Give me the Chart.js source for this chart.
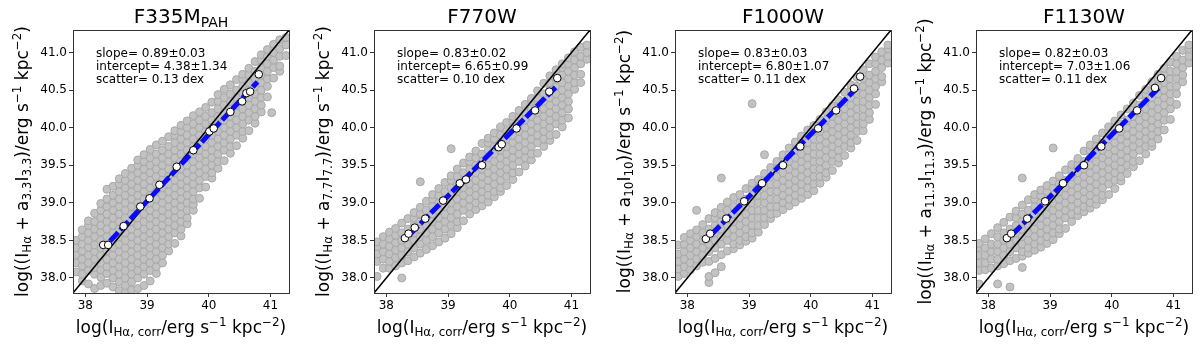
<!DOCTYPE html>
<html><head><meta charset="utf-8">
<script src="https://cdn.jsdelivr.net/npm/chart.js@4.4.0/dist/chart.umd.min.js"></script>
<style>
html,body{margin:0;padding:0;background:#fff;}
#wrap{position:relative;width:1200px;height:346px;overflow:hidden;background:#fff;}
.pane{position:absolute;top:0;width:301px;height:346px;}
canvas{display:block;}
</style></head><body>
<div id="wrap">
<div class="pane" style="left:0px"><canvas id="c0" width="301" height="346"></canvas></div>
<div class="pane" style="left:301px"><canvas id="c1" width="301" height="346"></canvas></div>
<div class="pane" style="left:602px"><canvas id="c2" width="301" height="346"></canvas></div>
<div class="pane" style="left:903px"><canvas id="c3" width="301" height="346"></canvas></div>
</div>
<script>
// ---------------- DATA ----------------
const axisMin = 37.8, axisMax = 41.3;
const xTicks = [38, 39, 40, 41];
const xTickLabels = ['38', '39', '40', '41'];
const yTicks = [38.0, 38.5, 39.0, 39.5, 40.0, 40.5, 41.0];
const yTickLabels = ['38.0', '38.5', '39.0', '39.5', '40.0', '40.5', '41.0'];

const panelNames = ['F335M', 'F770W', 'F1000W', 'F1130W'];
const panelNameSubs = ['PAH', '', '', ''];
const bandSubs = ['3.3', '7.7', '10', '11.3'];
const slopeTexts = ['slope= 0.89±0.03', 'slope= 0.83±0.02', 'slope= 0.83±0.03', 'slope= 0.82±0.03'];
const interceptTexts = ['intercept= 4.38±1.34', 'intercept= 6.65±0.99', 'intercept= 6.80±1.07', 'intercept= 7.03±1.06'];
const scatterTexts = ['scatter= 0.13 dex', 'scatter= 0.10 dex', 'scatter= 0.11 dex', 'scatter= 0.11 dex'];

const oneToOne = [37.8, 41.3];

// gray cloud, columns: [x, y1, y2, ...]
const cloudF335 = [
 [37.85, 38.08, 38.2, 38.31, 38.4, 38.5],
 [37.95, 37.96, 38.05, 38.16, 38.25, 38.36, 38.45, 38.55, 38.64],
 [38.05, 37.92, 38.1, 38.2, 38.3, 38.41, 38.5, 38.6, 38.7, 38.76],
 [38.15, 37.86, 38.05, 38.14, 38.25, 38.35, 38.44, 38.55, 38.65, 38.75, 38.86],
 [38.25, 37.9, 38.01, 38.11, 38.2, 38.3, 38.4, 38.5, 38.61, 38.7, 38.8, 38.9, 38.99],
 [38.35, 37.93, 38.06, 38.15, 38.25, 38.36, 38.45, 38.55, 38.65, 38.75, 38.85, 38.95, 39.05, 39.18],
 [38.45, 37.88, 38.0, 38.1, 38.2, 38.3, 38.4, 38.5, 38.6, 38.7, 38.8, 38.9, 39.0, 39.1, 39.22],
 [38.55, 37.83, 37.95, 38.05, 38.15, 38.25, 38.35, 38.45, 38.55, 38.65, 38.75, 38.85, 38.95, 39.05, 39.15, 39.25, 39.32],
 [38.65, 37.81, 37.9, 38.0, 38.1, 38.2, 38.3, 38.4, 38.5, 38.6, 38.7, 38.8, 38.9, 39.0, 39.1, 39.2, 39.3, 39.39],
 [38.75, 37.84, 37.95, 38.05, 38.15, 38.25, 38.35, 38.45, 38.55, 38.65, 38.75, 38.85, 38.95, 39.05, 39.15, 39.25, 39.35, 39.46],
 [38.85, 37.86, 38.0, 38.1, 38.2, 38.3, 38.4, 38.5, 38.6, 38.7, 38.8, 38.9, 39.0, 39.1, 39.2, 39.3, 39.4, 39.5, 39.57],
 [38.95, 37.9, 38.05, 38.15, 38.25, 38.35, 38.45, 38.55, 38.65, 38.75, 38.85, 38.95, 39.05, 39.15, 39.25, 39.35, 39.45, 39.55, 39.64],
 [39.05, 37.96, 38.1, 38.2, 38.3, 38.4, 38.5, 38.6, 38.7, 38.8, 38.9, 39.0, 39.1, 39.2, 39.3, 39.4, 39.5, 39.6, 39.71],
 [39.15, 38.06, 38.15, 38.25, 38.35, 38.45, 38.55, 38.65, 38.75, 38.85, 38.95, 39.05, 39.15, 39.25, 39.35, 39.45, 39.55, 39.65, 39.77],
 [39.25, 38.2, 38.3, 38.4, 38.5, 38.6, 38.7, 38.8, 38.9, 39.0, 39.1, 39.2, 39.3, 39.4, 39.5, 39.6, 39.7, 39.82],
 [39.35, 38.36, 38.45, 38.55, 38.65, 38.75, 38.85, 38.95, 39.05, 39.15, 39.25, 39.35, 39.45, 39.55, 39.65, 39.75, 39.88],
 [39.45, 38.46, 38.6, 38.7, 38.8, 38.9, 39.0, 39.1, 39.2, 39.3, 39.4, 39.5, 39.6, 39.7, 39.8, 39.9, 39.96],
 [39.55, 38.56, 38.65, 38.75, 38.85, 38.95, 39.05, 39.15, 39.25, 39.35, 39.45, 39.55, 39.65, 39.75, 39.85, 39.95, 40.03],
 [39.65, 38.72, 38.8, 38.9, 39.0, 39.1, 39.2, 39.3, 39.4, 39.5, 39.6, 39.7, 39.8, 39.9, 40.0, 40.09],
 [39.75, 38.9, 38.98, 39.05, 39.15, 39.25, 39.35, 39.45, 39.55, 39.65, 39.75, 39.85, 39.95, 40.05, 40.16],
 [39.85, 39.06, 39.2, 39.3, 39.4, 39.5, 39.6, 39.7, 39.8, 39.9, 40.0, 40.1, 40.21],
 [39.95, 39.21, 39.35, 39.45, 39.55, 39.65, 39.75, 39.85, 39.95, 40.05, 40.15, 40.27],
 [40.05, 39.33, 39.4, 39.5, 39.6, 39.7, 39.8, 39.9, 40.0, 40.1, 40.2, 40.34],
 [40.15, 39.46, 39.55, 39.65, 39.75, 39.85, 39.95, 40.05, 40.15, 40.25, 40.35, 40.44],
 [40.25, 39.56, 39.7, 39.8, 39.9, 40.0, 40.1, 40.2, 40.3, 40.4, 40.51],
 [40.35, 39.66, 39.75, 39.85, 39.95, 40.05, 40.15, 40.25, 40.35, 40.45, 40.57],
 [40.45, 39.76, 39.9, 40.0, 40.1, 40.2, 40.3, 40.4, 40.5, 40.64],
 [40.55, 39.86, 39.95, 40.05, 40.15, 40.25, 40.35, 40.45, 40.55, 40.65, 40.71],
 [40.65, 39.96, 40.1, 40.2, 40.3, 40.4, 40.5, 40.6, 40.7, 40.79],
 [40.75, 40.06, 40.15, 40.25, 40.35, 40.45, 40.55, 40.65, 40.75, 40.88],
 [40.85, 40.21, 40.3, 40.4, 40.5, 40.6, 40.7, 40.8, 40.9, 40.97],
 [40.95, 40.41, 40.55, 40.65, 40.75, 40.85, 40.95, 41.04],
 [41.02, 40.2],
 [41.05, 40.66, 40.8, 40.9, 41.0, 41.11],
 [41.15, 40.75, 40.82, 40.95, 41.05, 41.17],
 [41.25, 40.96, 41.1, 41.2]
];
const cloudF770 = [
 [37.85, 38.02, 38.22, 38.32, 38.42, 38.48],
 [37.95, 38.13, 38.25, 38.35, 38.45, 38.55],
 [38.05, 38.13, 38.22, 38.32, 38.42, 38.52, 38.61],
 [38.15, 38.16, 38.27, 38.37, 38.47, 38.57, 38.66],
 [38.25, 38.0, 38.2, 38.3, 38.4, 38.5, 38.6, 38.73],
 [38.35, 38.23, 38.35, 38.45, 38.55, 38.65, 38.79],
 [38.45, 38.28, 38.4, 38.5, 38.6, 38.7, 38.8, 38.87],
 [38.55, 38.33, 38.45, 38.55, 38.65, 38.75, 38.85, 38.94, 39.28],
 [38.65, 38.38, 38.5, 38.6, 38.7, 38.8, 38.9, 39.02],
 [38.75, 38.43, 38.55, 38.65, 38.75, 38.85, 38.95, 39.05, 39.11],
 [38.85, 38.48, 38.6, 38.7, 38.8, 38.9, 39.0, 39.1, 39.19],
 [38.95, 38.53, 38.65, 38.75, 38.85, 38.95, 39.05, 39.15, 39.27],
 [39.05, 38.59, 38.7, 38.8, 38.9, 39.0, 39.1, 39.2, 39.3, 39.36, 39.72],
 [39.15, 38.67, 38.75, 38.85, 38.95, 39.05, 39.15, 39.25, 39.35, 39.45],
 [39.25, 38.76, 38.9, 39.0, 39.1, 39.2, 39.3, 39.4, 39.53],
 [39.35, 38.85, 38.95, 39.05, 39.15, 39.25, 39.35, 39.45, 39.55, 39.61],
 [39.45, 38.91, 39.0, 39.1, 39.2, 39.3, 39.4, 39.5, 39.6, 39.69],
 [39.55, 38.96, 39.05, 39.15, 39.25, 39.35, 39.45, 39.55, 39.65, 39.79],
 [39.65, 39.01, 39.1, 39.2, 39.3, 39.4, 39.5, 39.6, 39.7, 39.8, 39.86],
 [39.75, 39.08, 39.15, 39.25, 39.35, 39.45, 39.55, 39.65, 39.75, 39.85, 39.93],
 [39.85, 39.15, 39.2, 39.3, 39.4, 39.5, 39.6, 39.7, 39.8, 39.9, 40.01],
 [39.95, 39.23, 39.35, 39.45, 39.55, 39.65, 39.75, 39.85, 39.95, 40.07],
 [40.05, 39.31, 39.4, 39.5, 39.6, 39.7, 39.8, 39.9, 40.0, 40.1, 40.15],
 [40.15, 39.41, 39.55, 39.65, 39.75, 39.85, 39.95, 40.05, 40.15, 40.23],
 [40.25, 39.49, 39.6, 39.7, 39.8, 39.9, 40.0, 40.1, 40.2, 40.31],
 [40.35, 39.57, 39.65, 39.75, 39.85, 39.95, 40.05, 40.15, 40.25, 40.35, 40.39],
 [40.45, 39.66, 39.8, 39.9, 40.0, 40.1, 40.2, 40.3, 40.4, 40.49],
 [40.55, 39.75, 39.85, 39.95, 40.05, 40.15, 40.25, 40.35, 40.45, 40.59],
 [40.65, 39.83, 39.9, 40.0, 40.1, 40.2, 40.3, 40.4, 40.5, 40.6, 40.69],
 [40.75, 39.91, 40.05, 40.15, 40.25, 40.35, 40.45, 40.55, 40.65, 40.77],
 [40.85, 40.01, 40.1, 40.2, 40.3, 40.4, 40.5, 40.6, 40.7, 40.8, 40.85],
 [40.95, 40.13, 40.25, 40.35, 40.45, 40.55, 40.65, 40.75, 40.85, 40.93],
 [41.05, 40.51, 40.6, 40.7, 40.8, 40.9, 41.01],
 [41.15, 40.6, 40.71, 40.85, 40.95, 41.07],
 [41.25, 40.91, 41.0, 41.1]
];
const cloudF1000 = [
 [37.85, 38.02, 38.12, 38.22, 38.32, 38.44],
 [37.95, 38.06, 38.15, 38.25, 38.35, 38.45, 38.54],
 [38.05, 38.11, 38.2, 38.3, 38.4, 38.5, 38.59],
 [38.15, 38.16, 38.25, 38.35, 38.45, 38.55, 38.64, 38.9],
 [38.25, 38.21, 38.3, 38.4, 38.5, 38.6, 38.71],
 [38.35, 37.94, 38.02, 38.22, 38.35, 38.45, 38.55, 38.65, 38.79],
 [38.45, 38.07, 38.26, 38.4, 38.5, 38.6, 38.7, 38.8, 38.87],
 [38.55, 38.15, 38.31, 38.45, 38.55, 38.65, 38.75, 38.85, 38.94, 39.33],
 [38.65, 38.36, 38.5, 38.6, 38.7, 38.8, 38.9, 39.01],
 [38.75, 38.39, 38.45, 38.55, 38.65, 38.75, 38.85, 38.95, 39.07],
 [38.85, 38.44, 38.5, 38.6, 38.7, 38.8, 38.9, 39.0, 39.11],
 [38.95, 38.49, 38.55, 38.65, 38.75, 38.85, 38.95, 39.05, 39.19],
 [39.05, 38.53, 38.6, 38.7, 38.8, 38.9, 39.0, 39.1, 39.2, 39.26, 40.32],
 [39.15, 38.61, 38.7, 38.8, 38.9, 39.0, 39.1, 39.2, 39.31],
 [39.25, 38.71, 38.8, 38.9, 39.0, 39.1, 39.2, 39.3, 39.39, 39.64],
 [39.35, 38.79, 38.85, 38.95, 39.05, 39.15, 39.25, 39.35, 39.47],
 [39.45, 38.86, 38.95, 39.05, 39.15, 39.25, 39.35, 39.45, 39.55],
 [39.55, 38.91, 39.0, 39.1, 39.2, 39.3, 39.4, 39.5, 39.6, 39.64],
 [39.65, 38.96, 39.05, 39.15, 39.25, 39.35, 39.45, 39.55, 39.65, 39.73],
 [39.75, 39.01, 39.1, 39.2, 39.3, 39.4, 39.5, 39.6, 39.7, 39.81],
 [39.85, 39.06, 39.15, 39.25, 39.35, 39.45, 39.55, 39.65, 39.75, 39.85, 39.89],
 [39.95, 39.11, 39.2, 39.3, 39.4, 39.5, 39.6, 39.7, 39.8, 39.9, 39.97],
 [40.05, 39.16, 39.25, 39.35, 39.45, 39.55, 39.65, 39.75, 39.85, 39.95, 40.03],
 [40.15, 39.26, 39.35, 39.45, 39.55, 39.65, 39.75, 39.85, 39.95, 40.05, 40.11],
 [40.25, 39.34, 39.4, 39.5, 39.6, 39.7, 39.8, 39.9, 40.0, 40.1, 40.21],
 [40.35, 39.43, 39.55, 39.65, 39.75, 39.85, 39.95, 40.05, 40.15, 40.29],
 [40.45, 39.53, 39.6, 39.7, 39.8, 39.9, 40.0, 40.1, 40.2, 40.3, 40.37],
 [40.55, 39.63, 39.75, 39.85, 39.95, 40.05, 40.15, 40.25, 40.35, 40.47],
 [40.65, 39.73, 39.8, 39.9, 40.0, 40.1, 40.2, 40.3, 40.4, 40.5, 40.57],
 [40.75, 39.83, 39.95, 40.05, 40.15, 40.25, 40.35, 40.45, 40.55, 40.67],
 [40.85, 39.96, 40.05, 40.15, 40.25, 40.35, 40.45, 40.55, 40.65, 40.77],
 [40.95, 40.11, 40.2, 40.3, 40.4, 40.5, 40.6, 40.7, 40.85],
 [41.05, 40.31, 40.45, 40.55, 40.65, 40.75, 40.85, 40.94],
 [41.15, 40.61, 40.68, 40.8, 40.9, 41.01],
 [41.25, 40.86, 40.95, 41.05, 41.1]
];
const cloudF1130 = [
 [37.85, 37.92, 38.1, 38.2, 38.3, 38.4, 38.46],
 [37.95, 38.11, 38.2, 38.3, 38.4, 38.52],
 [38.05, 38.13, 38.25, 38.35, 38.45, 38.59],
 [38.15, 37.92, 38.16, 38.25, 38.35, 38.45, 38.55, 38.67],
 [38.25, 38.19, 38.3, 38.4, 38.5, 38.6, 38.74],
 [38.35, 37.88, 38.23, 38.35, 38.45, 38.55, 38.65, 38.81],
 [38.45, 38.26, 38.4, 38.5, 38.6, 38.7, 38.8, 38.89],
 [38.55, 38.14, 38.29, 38.35, 38.45, 38.55, 38.65, 38.75, 38.85, 38.97, 39.33],
 [38.65, 38.33, 38.4, 38.5, 38.6, 38.7, 38.8, 38.9, 39.04],
 [38.75, 38.37, 38.45, 38.55, 38.65, 38.75, 38.85, 38.95, 39.05, 39.11],
 [38.85, 38.41, 38.5, 38.6, 38.7, 38.8, 38.9, 39.0, 39.1, 39.17],
 [38.95, 38.46, 38.55, 38.65, 38.75, 38.85, 38.95, 39.05, 39.15, 39.23],
 [39.05, 38.51, 38.6, 38.7, 38.8, 38.9, 39.0, 39.1, 39.2, 39.29, 39.73],
 [39.15, 38.59, 38.65, 38.75, 38.85, 38.95, 39.05, 39.15, 39.25, 39.36],
 [39.25, 38.66, 38.8, 38.9, 39.0, 39.1, 39.2, 39.3, 39.44],
 [39.35, 38.75, 38.85, 38.95, 39.05, 39.15, 39.25, 39.35, 39.45, 39.51],
 [39.45, 38.83, 38.9, 39.0, 39.1, 39.2, 39.3, 39.4, 39.5, 39.59],
 [39.55, 38.88, 38.95, 39.05, 39.15, 39.25, 39.35, 39.45, 39.55, 39.69],
 [39.65, 38.93, 39.0, 39.1, 39.2, 39.3, 39.4, 39.5, 39.6, 39.7, 39.77],
 [39.75, 38.98, 39.05, 39.15, 39.25, 39.35, 39.45, 39.55, 39.65, 39.75, 39.85],
 [39.85, 39.04, 39.1, 39.2, 39.3, 39.4, 39.5, 39.6, 39.7, 39.8, 39.93],
 [39.95, 39.11, 39.25, 39.35, 39.45, 39.55, 39.65, 39.75, 39.85, 39.95, 40.01],
 [40.05, 39.19, 39.3, 39.4, 39.5, 39.6, 39.7, 39.8, 39.9, 40.0, 40.09],
 [40.15, 39.29, 39.35, 39.45, 39.55, 39.65, 39.75, 39.85, 39.95, 40.05, 40.17],
 [40.25, 39.39, 39.5, 39.6, 39.7, 39.8, 39.9, 40.0, 40.1, 40.25],
 [40.35, 39.48, 39.55, 39.65, 39.75, 39.85, 39.95, 40.05, 40.15, 40.25, 40.33],
 [40.45, 39.56, 39.7, 39.8, 39.9, 40.0, 40.1, 40.2, 40.3, 40.43],
 [40.55, 39.65, 39.75, 39.85, 39.95, 40.05, 40.15, 40.25, 40.35, 40.45, 40.51],
 [40.65, 39.75, 39.8, 39.9, 40.0, 40.1, 40.2, 40.3, 40.4, 40.5, 40.61],
 [40.75, 39.85, 39.95, 40.05, 40.15, 40.25, 40.35, 40.45, 40.55, 40.65, 40.71],
 [40.85, 39.97, 40.1, 40.2, 40.3, 40.4, 40.5, 40.6, 40.7, 40.79],
 [40.95, 40.11, 40.25, 40.35, 40.45, 40.55, 40.65, 40.75, 40.87],
 [41.05, 40.31, 40.45, 40.55, 40.65, 40.75, 40.85, 40.95],
 [41.15, 40.61, 40.7, 40.8, 40.9, 41.03],
 [41.25, 40.86, 40.95, 41.05, 41.1]
];

// binned medians (white circles)
const medXF335 = [38.29, 38.37, 38.62, 38.89, 39.04, 39.20, 39.48, 39.75, 40.01, 40.08, 40.35, 40.54, 40.61, 40.67, 40.81];
const medYF335 = [38.44, 38.44, 38.69, 38.95, 39.06, 39.24, 39.48, 39.70, 39.95, 39.99, 40.21, 40.35, 40.46, 40.48, 40.71];
const medXF770 = [38.30, 38.36, 38.46, 38.63, 38.92, 39.19, 39.29, 39.55, 39.82, 39.87, 40.11, 40.41, 40.64, 40.77];
const medYF770 = [38.53, 38.59, 38.67, 38.79, 39.03, 39.26, 39.31, 39.50, 39.74, 39.78, 39.99, 40.23, 40.48, 40.66];
const medXF1000 = [38.30, 38.37, 38.63, 38.92, 39.21, 39.55, 39.83, 40.12, 40.41, 40.70, 40.80];
const medYF1000 = [38.52, 38.59, 38.79, 39.02, 39.26, 39.50, 39.75, 39.99, 40.23, 40.52, 40.68];
const medXF1130 = [38.30, 38.37, 38.63, 38.92, 39.21, 39.55, 39.83, 40.12, 40.41, 40.70, 40.80];
const medYF1130 = [38.53, 38.59, 38.79, 39.02, 39.26, 39.50, 39.75, 39.99, 40.23, 40.53, 40.66];

// fitted relation (blue), end points
const fitXF335 = [38.40, 40.79];
const fitYF335 = [38.49, 40.61];
const fitXF770 = [38.38, 40.77];
const fitYF770 = [38.58, 40.56];
const fitXF1000 = [38.39, 40.76];
const fitYF1000 = [38.58, 40.54];
const fitXF1130 = [38.39, 40.76];
const fitYF1130 = [38.58, 40.53];

const clouds = [cloudF335, cloudF770, cloudF1000, cloudF1130];
const medXs = [medXF335, medXF770, medXF1000, medXF1130];
const medYs = [medYF335, medYF770, medYF1000, medYF1130];
const fitXs = [fitXF335, fitXF770, fitXF1000, fitXF1130];
const fitYs = [fitYF335, fitYF770, fitYF1000, fitYF1130];

// ---------------- DRAWING ----------------
const FONT = '"DejaVu Sans", "Liberation Sans", sans-serif';

function drawRich(ctx, segs, x, y, size, align) {
  const parts = segs.map(s => {
    const fs = s[1] ? size * 0.7 : size;
    ctx.font = fs + 'px ' + FONT;
    return { t: s[0], k: s[1], fs: fs, w: ctx.measureText(s[0]).width };
  });
  const total = parts.reduce((a, p) => a + p.w, 0);
  let cx = align === 'center' ? x - total / 2 : x;
  ctx.textAlign = 'left';
  ctx.textBaseline = 'alphabetic';
  for (const p of parts) {
    ctx.font = p.fs + 'px ' + FONT;
    let dy = 0;
    if (p.k === 'sub') dy = size * 0.2;
    if (p.k === 'sup') dy = -size * 0.4;
    ctx.fillText(p.t, cx, y + dy);
    cx += p.w;
  }
}

function cloudPoints(cols) {
  const pts = [];
  for (const c of cols) for (let i = 1; i < c.length; i++) pts.push({ x: c[0], y: c[i] });
  return pts;
}
function zipPts(xs, ys) { return xs.map((x, i) => ({ x: x, y: ys[i] })); }

const xLabelSegs = [['log(I', ''], ['Hα, corr', 'sub'], ['/erg s', ''], ['−1', 'sup'], [' kpc', ''], ['−2', 'sup'], [')', '']];

function makeChart(k) {
  const b = bandSubs[k];
  const yLabelSegs = [['log((I', ''], ['Hα', 'sub'], [' + a', ''], [b, 'sub'], ['I', ''], [b, 'sub'], [')/erg s', ''], ['−1', 'sup'], [' kpc', ''], ['−2', 'sup'], [')', '']];
  const titleSegs = [[panelNames[k], '']];
  if (panelNameSubs[k]) titleSegs.push([panelNameSubs[k], 'sub']);

  const deco = {
    id: 'deco' + k,
    afterDraw(chart) {
      const ctx = chart.ctx, a = chart.chartArea;
      ctx.save();
      ctx.strokeStyle = '#333';
      ctx.lineWidth = 1;
      ctx.strokeRect(Math.round(a.left) + 0.5, Math.round(a.top) + 0.5, Math.round(a.right - a.left), Math.round(a.bottom - a.top));
      ctx.fillStyle = '#000';
      const cxm = (a.left + a.right) / 2;
      drawRich(ctx, titleSegs, cxm, 23, 20, 'center');
      drawRich(ctx, xLabelSegs, cxm, 333, 17, 'center');
      ctx.save();
      ctx.translate(28, (a.top + a.bottom) / 2);
      ctx.rotate(-Math.PI / 2);
      drawRich(ctx, yLabelSegs, 0, 0, 17, 'center');
      ctx.restore();
      ctx.font = '12px ' + FONT;
      ctx.textAlign = 'left';
      ctx.textBaseline = 'alphabetic';
      ctx.fillText(slopeTexts[k], a.left + 23, 56.5);
      ctx.fillText(interceptTexts[k], a.left + 23, 69.8);
      ctx.fillText(scatterTexts[k], a.left + 23, 83.1);
      ctx.restore();
    }
  };

  return new Chart(document.getElementById('c' + k), {
    type: 'scatter',
    data: {
      datasets: [
        { type: 'scatter', data: zipPts(medXs[k], medYs[k]), pointRadius: 3.8, pointHoverRadius: 3.8,
          backgroundColor: '#ffffff', borderColor: '#000000', borderWidth: 1, order: 1, clip: 0 },
        { type: 'line', data: zipPts(fitXs[k], fitYs[k]), borderColor: '#0a0aff', borderWidth: 5,
          borderDash: [12, 3], pointRadius: 0, fill: false, order: 2, clip: 0, borderCapStyle: 'butt' },
        { type: 'line', data: zipPts(oneToOne, oneToOne), borderColor: '#000000', borderWidth: 1.5,
          pointRadius: 0, fill: false, order: 3, clip: 0 },
        { type: 'scatter', data: cloudPoints(clouds[k]), pointRadius: 4, pointHoverRadius: 4,
          backgroundColor: '#c2c2c2', borderColor: '#a8a8a8', borderWidth: 1, order: 4, clip: 0 }
      ]
    },
    options: {
      responsive: false,
      animation: false,
      devicePixelRatio: 1,
      events: [],
      layout: { padding: { top: 30, right: 12, left: 0, bottom: 0 } },
      plugins: { legend: { display: false }, tooltip: { enabled: false }, title: { display: false } },
      scales: {
        x: {
          type: 'linear', min: axisMin, max: axisMax,
          afterBuildTicks: s => { s.ticks = xTicks.map(v => ({ value: v })); },
          afterFit: s => { s.height = 53; s.paddingLeft = 0; s.paddingRight = 0; },
          ticks: { callback: (v, i) => xTickLabels[i], color: '#000', font: { family: FONT, size: 12 }, padding: 2, maxRotation: 0, autoSkip: false },
          grid: { display: true, drawOnChartArea: false, drawTicks: true, tickLength: 4, tickColor: '#333', tickWidth: 1 },
          border: { display: false }
        },
        y: {
          type: 'linear', min: axisMin, max: axisMax,
          afterBuildTicks: s => { s.ticks = yTicks.map(v => ({ value: v })); },
          afterFit: s => { s.width = 73; s.paddingTop = 0; s.paddingBottom = 0; },
          ticks: { callback: (v, i) => yTickLabels[i], color: '#000', font: { family: FONT, size: 12 }, padding: 2, autoSkip: false },
          grid: { display: true, drawOnChartArea: false, drawTicks: true, tickLength: 4, tickColor: '#333', tickWidth: 1 },
          border: { display: false }
        }
      }
    },
    plugins: [deco]
  });
}

for (let k = 0; k < 4; k++) makeChart(k);
</script>
</body></html>
